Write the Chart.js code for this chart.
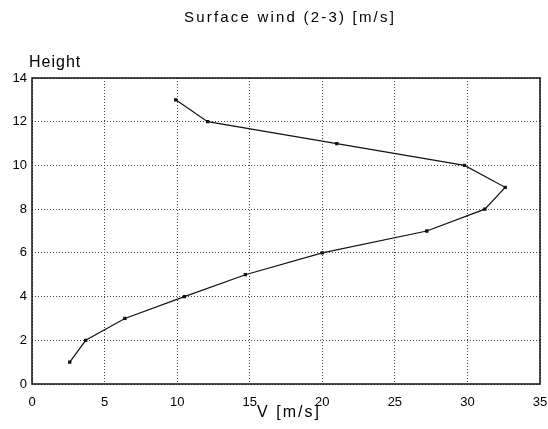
<!DOCTYPE html>
<html>
<head>
<meta charset="utf-8">
<script src="https://cdn.jsdelivr.net/npm/chart.js@4/dist/chart.umd.min.js"></script>
<style>
  html, body { margin: 0; padding: 0; background: #fff; }
  #wrap { width: 548px; height: 429px; }
</style>
</head>
<body>
<div id="wrap"><canvas id="windChart" width="548" height="429"></canvas></div>
<script>
// wind speed V [m/s] at each height level
const heights = [1, 2, 3, 4, 5, 6, 7, 8, 9, 10, 11, 12, 13];
const speeds = [2.6, 3.7, 6.4, 10.5, 14.7, 20.0, 27.2, 31.2, 32.6, 29.8, 21.0, 12.1, 9.9];
const xTicks = [0, 5, 10, 15, 20, 25, 30, 35];
const yTicks = [0, 2, 4, 6, 8, 10, 12, 14];

const FONT = "'Liberation Sans', Arial, sans-serif";

const textPlugin = {
  id: "texts",
  afterDraw(chart) {
    const ctx = chart.ctx;
    const a = chart.chartArea;
    ctx.save();
    // frame
    ctx.strokeStyle = "#111";
    ctx.lineWidth = 1.5;
    ctx.strokeRect(a.left, a.top, a.right - a.left, a.bottom - a.top);
    ctx.fillStyle = "#000";
    ctx.textBaseline = "middle";
    ctx.font = "15px " + FONT;
    ctx.letterSpacing = "2.2px";
    ctx.textAlign = "center";
    ctx.fillText("Surface wind (2-3) [m/s]", 290, 18);
    ctx.font = "16px " + FONT;
    ctx.letterSpacing = "1px";
    ctx.textAlign = "left";
    ctx.fillText("Height", 29, 63);
    ctx.font = "16px " + FONT;
    ctx.letterSpacing = "2px";
    ctx.textAlign = "center";
    ctx.fillText("V [m/s]", 289, 413);
    ctx.restore();
  }
};

new Chart(document.getElementById("windChart"), {
  type: "scatter",
  data: {
    datasets: [
      {
        label: "Surface wind",
        data: heights.map((h, i) => ({ x: speeds[i], y: h })),
        showLine: true,
        borderColor: "#111",
        backgroundColor: "#111",
        borderWidth: 1.2,
        pointStyle: "rect",
        pointRadius: 1.5,
        tension: 0,
      },
    ],
  },
  options: {
    responsive: false,
    animation: false,
    layout: { padding: { top: 78, right: 8, left: 0, bottom: 0 } },
    plugins: { legend: { display: false }, tooltip: { enabled: false } },
    scales: {
      x: {
        type: "linear",
        min: 0,
        max: 35,
        afterBuildTicks: (s) => { s.ticks = xTicks.map((v) => ({ value: v })); },
        afterFit: (s) => { s.height = 45; s.paddingRight = 0; s.paddingLeft = 0; },
        grid: { color: "#444", drawTicks: false, lineWidth: 1 },
        border: { display: false, dash: [1, 2] },
        ticks: { color: "#000", font: { family: FONT, size: 13 }, padding: 11, maxRotation: 0 },
      },
      y: {
        type: "linear",
        min: 0,
        max: 14,
        afterBuildTicks: (s) => { s.ticks = yTicks.map((v) => ({ value: v })); },
        afterFit: (s) => { s.width = 32; s.paddingTop = 0; s.paddingBottom = 0; },
        grid: { color: "#444", drawTicks: false, lineWidth: 1 },
        border: { display: false, dash: [1, 2] },
        ticks: { color: "#000", font: { family: FONT, size: 13 }, padding: 5 },
      },
    },
  },
  plugins: [textPlugin],
});
</script>
</body>
</html>
